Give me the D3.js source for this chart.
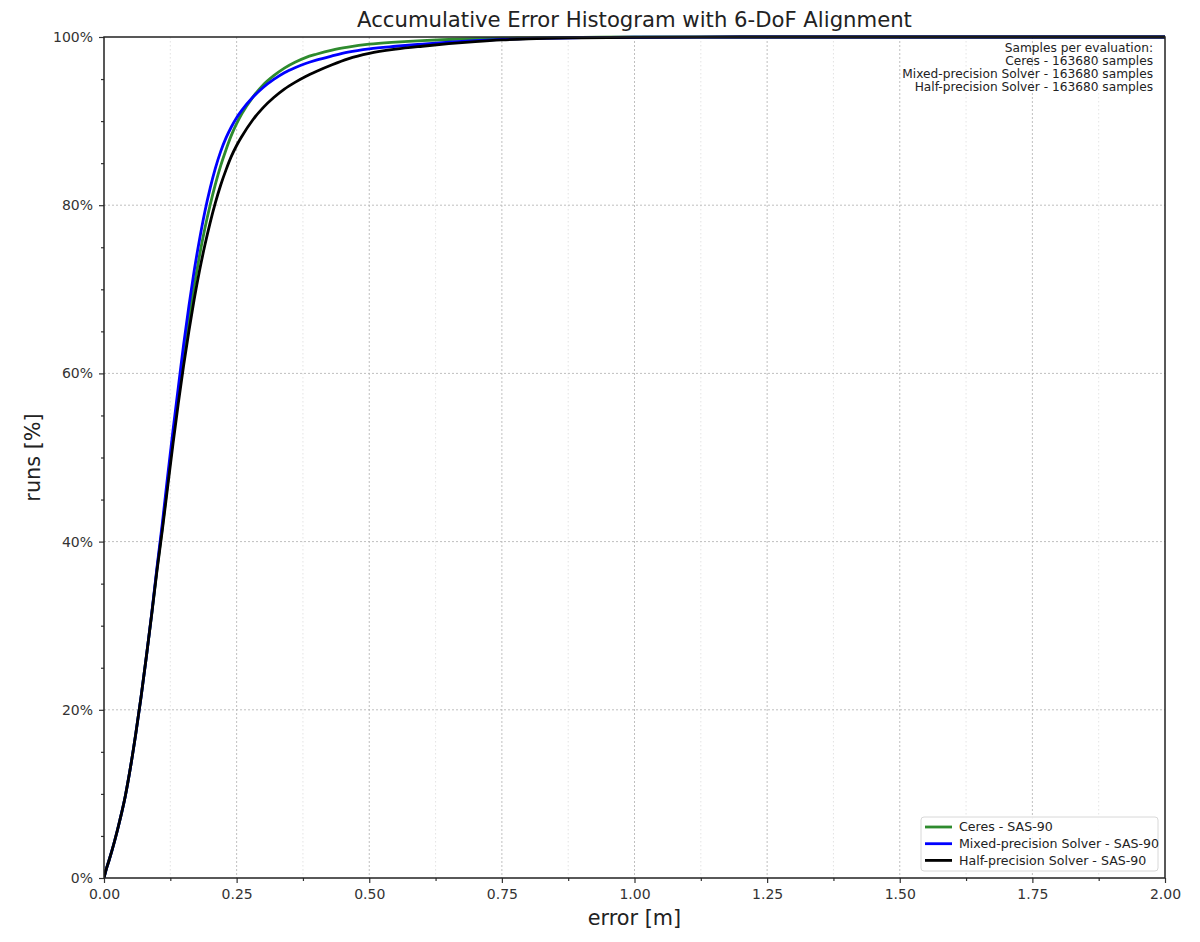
<!DOCTYPE html>
<html><head><meta charset="utf-8">
<script src="https://cdn.jsdelivr.net/npm/d3@7"></script>
<style>
html,body{margin:0;padding:0;background:#fff;}
svg{display:block;font-family:"DejaVu Sans",sans-serif;}
</style></head>
<body><svg id="chart" width="1200" height="942"></svg>
<script>
const errorGrid = [0,0.005,0.01,0.02,0.03,0.04,0.05,0.06,0.07,0.08,0.09,0.10,0.11,0.12,0.13,0.14,0.15,0.16,0.17,0.18,0.19,0.20,0.21,0.22,0.23,0.24,0.25,0.26,0.28,0.30,0.32,0.34,0.36,0.38,0.40,0.43,0.46,0.50,0.55,0.60,0.65,0.70,0.75,0.80,0.90,1.00,1.20,1.50,2.00];
const ceresPct = [0,1.2,2.2,4.4,6.9,9.7,13.2,17.2,21.6,26.4,31.4,36.8,41.7,47.0,52.3,57.3,62.0,66.4,70.4,74.0,77.2,80.0,82.5,84.7,86.6,88.3,89.7,90.9,92.8,94.3,95.4,96.3,97.0,97.55,97.95,98.45,98.8,99.15,99.4,99.58,99.7,99.8,99.86,99.9,99.96,100,100,100,100];
const mixedPct = [0,1.2,2.2,4.4,6.9,9.7,13.2,17.2,21.6,26.4,31.5,37.0,42.2,47.8,53.2,58.3,63.4,68.0,72.2,75.9,79.2,82.0,84.4,86.4,88.0,89.3,90.4,91.3,92.8,94.0,94.95,95.75,96.35,96.85,97.25,97.75,98.2,98.6,98.9,99.15,99.38,99.57,99.72,99.82,99.92,99.97,100,100,100];
const halfPct = [0,1.2,2.2,4.4,6.9,9.7,13.2,17.2,21.6,26.4,31.4,36.6,41.4,46.5,51.6,56.4,60.9,65.0,68.8,72.2,75.2,77.9,80.3,82.4,84.2,85.8,87.1,88.2,90.1,91.6,92.8,93.8,94.6,95.3,95.9,96.7,97.4,98.05,98.55,98.9,99.2,99.45,99.65,99.78,99.9,99.96,100,100,100];
const seriesNames = ["Ceres - SAS-90","Mixed-precision Solver - SAS-90","Half-precision Solver - SAS-90"];
const seriesColors = ["#2e8b2e","#0000ff","#000000"];
const xTickValues = [0,0.25,0.5,0.75,1.0,1.25,1.5,1.75,2.0];
const yTickValues = [0,20,40,60,80,100];
const sampleNotes = ["Samples per evaluation:","Ceres - 163680 samples","Mixed-precision Solver - 163680 samples","Half-precision Solver - 163680 samples"];

const svg = d3.select("#chart");
const m = {left:104, right:1165, top:37, bottom:878};
const x = d3.scaleLinear().domain([0,2]).range([m.left,m.right]);
const y = d3.scaleLinear().domain([0,100]).range([m.bottom,m.top]);

// grid
const minorX = d3.range(0.125,2,0.25);
svg.append("g").selectAll("line").data(minorX).join("line")
  .attr("x1",d=>x(d)).attr("x2",d=>x(d)).attr("y1",m.top).attr("y2",m.bottom)
  .attr("stroke","#dcdcdc").attr("stroke-width",0.8).attr("stroke-dasharray","1.5,2.5");
svg.append("g").selectAll("line").data(xTickValues.slice(1,-1)).join("line")
  .attr("x1",d=>x(d)).attr("x2",d=>x(d)).attr("y1",m.top).attr("y2",m.bottom)
  .attr("stroke","#b8b8b8").attr("stroke-width",0.9).attr("stroke-dasharray","2,2");
svg.append("g").selectAll("line").data(yTickValues.slice(1,-1)).join("line")
  .attr("x1",m.left).attr("x2",m.right).attr("y1",d=>y(d)).attr("y2",d=>y(d))
  .attr("stroke","#b8b8b8").attr("stroke-width",0.9).attr("stroke-dasharray","2,2");

// axes
const xAxis = d3.axisBottom(x).tickValues(xTickValues).tickFormat(d3.format(".2f")).tickSize(5).tickPadding(6);
const xMinor = d3.axisBottom(x).tickValues(minorX).tickFormat("").tickSize(3);
const yAxis = d3.axisLeft(y).tickValues(yTickValues).tickFormat(d=>d+"%").tickSize(5).tickPadding(6);
const yMinor = d3.axisLeft(y).tickValues(d3.range(5,100,5).filter(v=>v%20!==0)).tickFormat("").tickSize(3);
function style(g){g.select(".domain").remove();g.selectAll("line").attr("stroke","#333").attr("stroke-width",1.2);g.selectAll("text").attr("fill","#333").attr("font-size",14).attr("font-family","DejaVu Sans");}
svg.append("g").attr("transform",`translate(0,${m.bottom})`).call(xAxis).call(style);
svg.append("g").attr("transform",`translate(0,${m.bottom})`).call(xMinor).call(style);
svg.append("g").attr("transform",`translate(${m.left},0)`).call(yAxis).call(style);
svg.append("g").attr("transform",`translate(${m.left},0)`).call(yMinor).call(style);

// lines
const line = d3.line().x((d,i)=>x(errorGrid[i])).y(d=>y(d)).curve(d3.curveMonotoneX);
const allSeries = [ceresPct,mixedPct,halfPct];
const clipId="clipPlot";
svg.append("clipPath").attr("id",clipId).append("rect").attr("x",m.left).attr("y",m.top-2).attr("width",m.right-m.left).attr("height",m.bottom-m.top+2);
const lg = svg.append("g").attr("clip-path",`url(#${clipId})`);
allSeries.forEach((s,i)=>{
  lg.append("path").datum(s).attr("d",line).attr("fill","none")
    .attr("stroke",seriesColors[i]).attr("stroke-width",2.8).attr("stroke-linejoin","round");
});

// frame
svg.append("rect").attr("x",m.left).attr("y",m.top).attr("width",m.right-m.left).attr("height",m.bottom-m.top)
  .attr("fill","none").attr("stroke","#222").attr("stroke-width",1.5);

// title & labels
svg.append("text").attr("x",(m.left+m.right)/2).attr("y",27).attr("text-anchor","middle")
  .attr("font-size",21.2).attr("fill","#222").text("Accumulative Error Histogram with 6-DoF Alignment");
svg.append("text").attr("x",(m.left+m.right)/2).attr("y",925).attr("text-anchor","middle")
  .attr("font-size",20.8).attr("fill","#222").text("error [m]");
svg.append("text").attr("transform",`translate(40,${(m.top+m.bottom)/2}) rotate(-90)`).attr("text-anchor","middle")
  .attr("font-size",20.8).attr("fill","#222").text("runs [%]");

// sample notes
svg.append("g").attr("transform","translate(1153,0) scale(1.06,1)").selectAll("text").data(sampleNotes).join("text")
  .attr("x",0).attr("y",(d,i)=>52.5+i*13).attr("text-anchor","end")
  .attr("font-size",11.5).attr("fill","#222").text(d=>d);

// legend
const leg = svg.append("g");
leg.append("rect").attr("x",921).attr("y",817).attr("width",237).attr("height",54).attr("rx",3)
  .attr("fill","#fff").attr("fill-opacity",0.85).attr("stroke","#d8d8d8").attr("stroke-width",1);
seriesNames.forEach((n,i)=>{
  const yy=827+i*16.7;
  leg.append("line").attr("x1",925).attr("x2",952).attr("y1",yy).attr("y2",yy).attr("stroke",seriesColors[i]).attr("stroke-width",2.8);
  leg.append("text").attr("x",959).attr("y",yy+4.3).attr("font-size",12.6).attr("fill","#222").text(n);
});
</script></body></html>
